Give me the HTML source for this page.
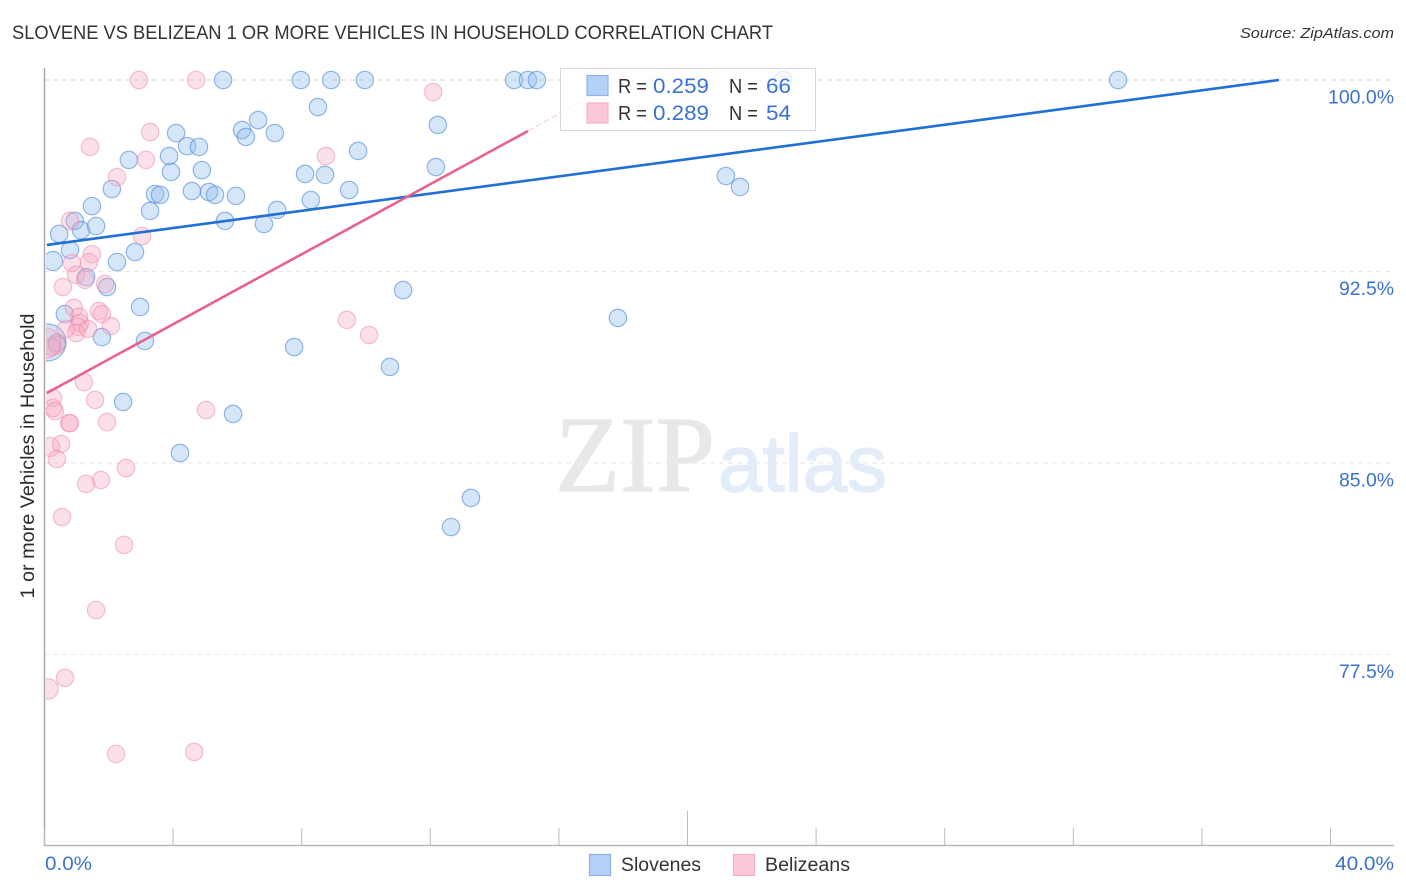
<!DOCTYPE html>
<html>
<head>
<meta charset="utf-8">
<title>Slovene vs Belizean correlation chart</title>
<style>
html,body{margin:0;padding:0;background:#fff;width:1406px;height:892px;overflow:hidden}
svg{display:block}
text{font-family:"Liberation Sans",sans-serif}
</style>
</head>
<body>
<svg id="chart" width="1406" height="892" viewBox="0 0 1406 892" xmlns="http://www.w3.org/2000/svg">
<defs><clipPath id="plot-clip"><rect x="46" y="60" width="1348" height="785"/></clipPath></defs>
<text x="12" y="39" font-size="19" fill="#333" textLength="761" lengthAdjust="spacingAndGlyphs">SLOVENE VS BELIZEAN 1 OR MORE VEHICLES IN HOUSEHOLD CORRELATION CHART</text>
<text x="1394" y="38" font-size="15" font-style="italic" fill="#333" text-anchor="end" textLength="154" lengthAdjust="spacingAndGlyphs">Source: ZipAtlas.com</text>
<g id="grid"></g>
<g>
<text x="555" y="491" font-size="108" fill="#e8e8e8" stroke="#e8e8e8" stroke-width="1.2" textLength="160" lengthAdjust="spacingAndGlyphs" style="font-family:'Liberation Serif',serif">ZIP</text>
<text x="718" y="491" font-size="80" fill="#e3ecf9" stroke="#e3ecf9" stroke-width="1.5" textLength="169" lengthAdjust="spacingAndGlyphs">atlas</text>
</g>
<g id="pointsB" clip-path="url(#plot-clip)"></g>
<g id="pointsP" clip-path="url(#plot-clip)"></g>
<g id="lines" clip-path="url(#plot-clip)"></g>
<g id="axes">
<line x1="44.5" y1="68" x2="44.5" y2="846" stroke="#a8a8a8" stroke-width="1.5"/>
<line x1="44" y1="845.5" x2="1394" y2="845.5" stroke="#b8b8b8" stroke-width="1.5"/>
</g>
<text transform="translate(34,456) rotate(-90)" font-size="19" fill="#2b2b2b" text-anchor="middle" textLength="285" lengthAdjust="spacingAndGlyphs">1 or more Vehicles in Household</text>
<g>
<rect x="560.5" y="68.5" width="255" height="62" fill="#fff" fill-opacity="0.76" stroke="#d8d8d8" stroke-width="1"/>
<rect x="587" y="75.500" width="21" height="20" fill="#b5d0f6" stroke="#8fb3e6" stroke-width="1.2"/>
<rect x="587" y="103" width="21" height="20" fill="#fcc8d9" stroke="#f3afc6" stroke-width="1.2"/>
<text x="618" y="93" font-size="20" fill="#333" textLength="29" lengthAdjust="spacingAndGlyphs">R =</text>
<text x="653" y="93" font-size="21" fill="#3b72cf" textLength="56" lengthAdjust="spacingAndGlyphs">0.259</text>
<text x="729" y="93" font-size="20" fill="#333" textLength="29" lengthAdjust="spacingAndGlyphs">N =</text>
<text x="766" y="93" font-size="21" fill="#3b72cf" textLength="25" lengthAdjust="spacingAndGlyphs">66</text>
<text x="618" y="120" font-size="20" fill="#333" textLength="29" lengthAdjust="spacingAndGlyphs">R =</text>
<text x="653" y="120" font-size="21" fill="#3b72cf" textLength="56" lengthAdjust="spacingAndGlyphs">0.289</text>
<text x="729" y="120" font-size="20" fill="#333" textLength="29" lengthAdjust="spacingAndGlyphs">N =</text>
<text x="766" y="120" font-size="21" fill="#3b72cf" textLength="25" lengthAdjust="spacingAndGlyphs">54</text>
</g>
<g>
<rect x="589.500" y="854.500" width="21" height="21" fill="#b5d0f6" stroke="#8fb3e6" stroke-width="1.2"/>
<text x="621" y="871" font-size="19" fill="#333" textLength="80" lengthAdjust="spacingAndGlyphs">Slovenes</text>
<rect x="733.500" y="854.500" width="21" height="21" fill="#fcc8d9" stroke="#f3afc6" stroke-width="1.2"/>
<text x="765" y="871" font-size="19" fill="#333" textLength="85" lengthAdjust="spacingAndGlyphs">Belizeans</text>
</g>
</svg>
<script>
const yTicks = [100, 92.5, 85, 77.5];
const yTickLabels = ["100.0%", "92.5%", "85.0%", "77.5%"];
const xTicks = [0, 4, 8, 12, 16, 20, 24, 28, 32, 36, 40];
const xEndLabels = ["0.0%", "40.0%"];
const sloveneX = [5.57,7.99,8.93,9.98,14.62,15.05,15.33,22.99,33.41,8.52,6.66,6.16,6.28,7.18,4.11,12.25,4.45,4.82,2.64,3.89,9.77,3.95,4.91,8.12,8.74,12.19,21.21,21.65,2.11,3.45,3.61,4.60,5.13,5.32,5.97,9.49,8.30,3.30,1.49,7.25,5.63,6.84,0.96,1.15,1.62,0.47,0.81,2.83,0.28,2.27,1.31,1.96,11.17,2.99,0.65,17.85,1.80,3.14,7.78,0.40,0.11,10.76,2.46,5.88,4.23,13.28,12.66];
const sloveneY = [100,100,100,100,100,100,100,100,100,98.94,98.43,98.04,97.77,97.92,97.92,98.24,97.41,97.38,96.87,97.02,97.22,96.40,96.47,96.32,96.28,96.59,96.24,95.81,95.73,95.53,95.50,95.65,95.61,95.50,95.46,95.69,95.30,94.87,95.06,94.91,94.48,94.36,94.48,94.12,94.28,93.97,93.34,93.26,92.91,92.87,92.28,91.89,91.77,91.11,90.83,90.68,89.93,89.78,89.54,89.70,89.72,88.76,87.39,86.92,85.39,83.63,82.49];
const sloveneWeight = [1,1,1,1,1,1,1,1,1,1,1,1,1,1,1,1,1,1,1,1,1,1,1,1,1,1,1,1,1,1,1,1,1,1,1,1,1,1,1,1,1,1,1,1,1,1,1,1,1.2,1,1,1,1,1,1,1,1,1,1,1,4.5,1,1,1,1,1,1];
const belizeanX = [2.95,4.73,12.10,3.30,1.43,3.17,8.77,2.27,0.81,3.05,1.49,1.40,0.87,1.00,1.28,0.59,1.90,0.93,1.09,1.71,1.80,1.12,1.06,1.00,1.37,0.68,2.08,0.40,0.25,9.42,10.11,1.24,1.59,0.28,0.28,0.34,0.78,0.81,1.96,5.04,0.19,0.53,0.40,2.55,1.77,1.31,0.56,2.49,1.62,0.65,0.12,2.24,4.67,0.05];
const belizeanY = [100,100,99.53,97.96,97.38,96.87,97.02,96.20,94.48,93.89,93.18,92.87,92.83,92.37,92.17,91.89,92.01,91.07,90.72,90.95,90.83,90.48,90.33,90.09,90.25,90.25,90.36,89.62,89.54,90.60,90.01,88.17,87.47,87.54,87.15,87.03,86.56,86.56,86.60,87.07,85.63,85.74,85.15,84.80,84.33,84.18,82.88,81.79,79.24,76.58,76.15,73.60,73.68,89.70];
const belizeanWeight = [1,1,1,1,1,1,1,1,1,1,1,1,1,1,1,1,1,1,1,1,1,1,1,1,1,1,1,1,1,1,1,1,1,1,1,1,1,1,1,1,1.2,1,1,1,1,1,1,1,1,1,1.4,1,1,3];
const sloveneTrendX = [0.09, 38.41];
const sloveneTrendY = [93.54, 100];
const belizeanTrendX = [0.09, 15.05];
const belizeanTrendY = [87.74, 98.0];
const belizeanExtensionX = [15.05, 17.85];
const belizeanExtensionY = [98.0, 99.96];

const NS = "http://www.w3.org/2000/svg";
const xScale = function (v) { return 44 + v * 32.15; };
const yScale = function (v) { return 80 + (100 - v) * 25.53; };
const baseRadius = 8.7;
function make(tag, parentId, attrs) {
  const el = document.createElementNS(NS, tag);
  for (const k in attrs) el.setAttribute(k, attrs[k]);
  document.getElementById(parentId).appendChild(el);
  return el;
}
yTicks.forEach(function (t, i) {
  const g = make("line", "grid", {x1: 44, x2: 1394, y1: yScale(t), y2: yScale(t), stroke: i === 0 ? "#d6d6d6" : "#e6e6e6", "stroke-width": 1, "stroke-dasharray": "5 4"});
  
  
  const lab = make("text", "axes", {x: 1394, y: yScale(t) + 23.5, "font-size": 19, fill: "#3b72cf", "text-anchor": "end", textLength: yTickLabels[i].length * 11, lengthAdjust: "spacingAndGlyphs"});
  lab.textContent = yTickLabels[i];
  
  
});
xTicks.forEach(function (t, i) {
  const long = i === 5;
  const tick = make("line", "axes", {x1: xScale(t) + 0.5, x2: xScale(t) + 0.5, y1: long ? 811 : 828, y2: 845, stroke: "#bcbcbc", "stroke-width": 1});
  
  
});
const x0Label = make("text", "axes", {x: 45, y: 870, "font-size": 19, fill: "#3b72cf", textLength: 47, lengthAdjust: "spacingAndGlyphs"});
x0Label.textContent = xEndLabels[0];


const x1Label = make("text", "axes", {x: 1394, y: 870, "font-size": 19, fill: "#3b72cf", "text-anchor": "end", textLength: 59, lengthAdjust: "spacingAndGlyphs"});
x1Label.textContent = xEndLabels[1];



sloveneX.forEach(function (v, i) {
  const c = make("circle", "pointsB", {cx: xScale(v), cy: yScale(sloveneY[i]), r: baseRadius * Math.sqrt(sloveneWeight[i]), fill: "#92bcf0", "fill-opacity": 0.38, stroke: "#4f8ad6", "stroke-opacity": 0.6, "stroke-width": 1.2});
  
  
});
belizeanX.forEach(function (v, i) {
  const c = make("circle", "pointsP", {cx: xScale(v), cy: yScale(belizeanY[i]), r: baseRadius * Math.sqrt(belizeanWeight[i]), fill: "#f8a8c2", "fill-opacity": 0.36, stroke: "#ee86a8", "stroke-opacity": 0.5, "stroke-width": 1.2});
  
  
});
const blueLine = make("line", "lines", {x1: xScale(sloveneTrendX[0]), y1: yScale(sloveneTrendY[0]), x2: xScale(sloveneTrendX[1]), y2: yScale(sloveneTrendY[1]), stroke: "#1f6fd6", "stroke-width": 2.6});


const pinkLine = make("line", "lines", {x1: xScale(belizeanTrendX[0]), y1: yScale(belizeanTrendY[0]), x2: xScale(belizeanTrendX[1]), y2: yScale(belizeanTrendY[1]), stroke: "#e8628f", "stroke-width": 2.6});


const pinkExt = make("line", "lines", {x1: xScale(belizeanExtensionX[0]), y1: yScale(belizeanExtensionY[0]), x2: xScale(belizeanExtensionX[1]), y2: yScale(belizeanExtensionY[1]), stroke: "#f7c4d5", "stroke-width": 1, "stroke-dasharray": "6 3"});


</script>
</body>
</html>
